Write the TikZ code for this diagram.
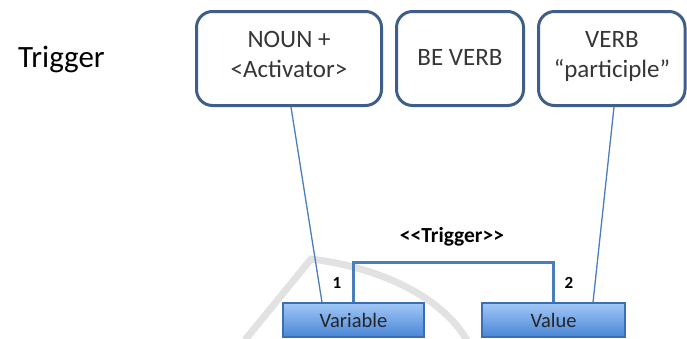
\documentclass[tikz,border=0pt]{standalone}
\usepackage{fontspec}
\setmainfont{Carlito}
\usetikzlibrary{calc}
\definecolor{boxline}{HTML}{3F5F8A}
\definecolor{boxtext}{HTML}{363636}
\definecolor{linkblue}{HTML}{4A7EBB}
\definecolor{classtop}{HTML}{A2C7F7}
\definecolor{classbot}{HTML}{4A86D6}
\definecolor{classline}{HTML}{3C6EB4}
\definecolor{wmgray}{HTML}{E2E2E2}
\tikzset{
  wordbox/.style={draw=boxline, line width=3pt, rounded corners=16pt, fill=white, inner sep=0pt},
  wordtext/.style={text=boxtext, font=\fontsize{25}{30}\selectfont, inner sep=0pt, anchor=base},
  classbox/.style={draw=classline, line width=1.2pt, top color=classtop, bottom color=classbot,
    inner sep=0pt, text=black!85, font=\fontsize{20.5}{21}\selectfont},
  tie/.style={draw=linkblue, line width=1.3pt},
  assoc/.style={draw=linkblue, line width=3pt},
  endlabel/.style={font=\bfseries\fontsize{17}{17}\selectfont, inner sep=0pt},
  watermark/.style={draw=wmgray, line width=7pt}
}
\begin{document}
\begin{tikzpicture}[x=1pt,y=-1pt]
\useasboundingbox (0,0) rectangle (687,338);

% faint background logo stroke
\draw[watermark] (245,340) -- (311,259) .. controls (370,266) and (440,292) .. (468,342);

% heading
\node[anchor=base west, inner sep=0pt, font=\fontsize{31}{31}\selectfont] (title) at (18,67) {Trigger};

% word boxes
\node[wordbox, minimum width=185pt, minimum height=94pt] (noun) at (289,58.5) {};
\node[wordbox, minimum width=127pt, minimum height=94pt] (be) at (460,58.5) {};
\node[wordbox, minimum width=146.5pt, minimum height=94pt] (verb) at (611.75,58.5) {};

\node[wordtext] (nounA) at (289,47) {NOUN +};
\node[wordtext] (nounB) at (289,77) {<Activator>};
\node[wordtext] (beA) at (460,65) {BE VERB};
\node[wordtext] (verbA) at (612,47) {VERB};
\node[wordtext] (verbB) at (612,77) {“participle”};

% class boxes
\node[classbox, minimum width=141pt, minimum height=34pt] (var) at (353.5,320) {Variable};
\node[classbox, minimum width=143pt, minimum height=34pt] (val) at (553.5,320) {Value};

% ties from words to roles
\draw[tie] ($(noun.south)+(2,0)$) -- ($(var.north)+(-31.5,0)$);
\draw[tie] ($(verb.south)+(2.25,0)$) -- ($(val.north)+(39.5,0)$);

% association
\draw[assoc] (var.north) -- ++(0,-40) coordinate (bendL) -| (val.north);
\node[font=\bfseries\fontsize{21.5}{21.5}\selectfont, inner sep=0pt] (rel) at (452,237) {<{}<Trigger>{}>};
\node[endlabel] (endA) at (337,283) {1};
\node[endlabel] (endB) at (569,283) {2};
\end{tikzpicture}
\end{document}
